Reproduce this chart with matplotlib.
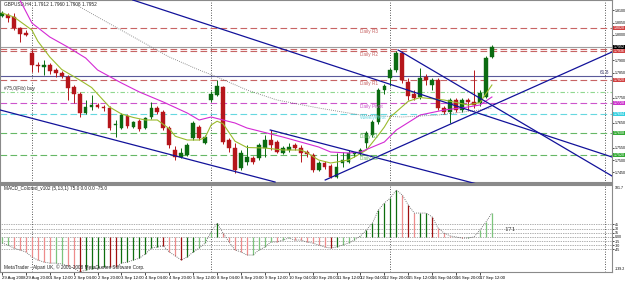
import numpy as np
import matplotlib.pyplot as plt
from matplotlib.transforms import blended_transform_factory

plt.rcParams['font.family'] = ['Liberation Sans', 'DejaVu Sans']

# GBPUSD H4, bars from 29 Aug 2008 04:00 to 17 Sep 2008 12:00
open_ = [1.8076, 1.8080, 1.8072, 1.8028, 1.8008, 1.7928, 1.7880, 1.7872, 1.7880, 1.7860,
         1.7848, 1.7832, 1.7792, 1.7764, 1.7688, 1.7712, 1.7720, 1.7712, 1.7708, 1.7640,
         1.7628, 1.7676, 1.7632, 1.7656, 1.7628, 1.7672, 1.7708, 1.7692, 1.7628, 1.7540,
         1.7512, 1.7520, 1.7588, 1.7632, 1.7568, 1.7740, 1.7760, 1.7792, 1.7580, 1.7548,
         1.7468, 1.7492, 1.7508, 1.7508, 1.7548, 1.7580, 1.7572, 1.7528, 1.7540, 1.7560,
         1.7548, 1.7532, 1.7520, 1.7460, 1.7488, 1.7476, 1.7432, 1.7488, 1.7492, 1.7524,
         1.7528, 1.7568, 1.7600, 1.7652, 1.7780, 1.7828, 1.7860, 1.7928, 1.7812, 1.7764,
         1.7752, 1.7832, 1.7800, 1.7820, 1.7708, 1.7692, 1.7740, 1.7700, 1.7740, 1.7732,
         1.7728, 1.7752, 1.7912]
high = [1.8096, 1.8088, 1.8088, 1.8032, 1.8020, 1.7940, 1.7892, 1.7900, 1.7888, 1.7868,
        1.7856, 1.7840, 1.7800, 1.7772, 1.7740, 1.7760, 1.7728, 1.7720, 1.7716, 1.7660,
        1.7688, 1.7684, 1.7656, 1.7664, 1.7672, 1.7732, 1.7716, 1.7700, 1.7636, 1.7556,
        1.7548, 1.7568, 1.7656, 1.7640, 1.7600, 1.7776, 1.7820, 1.7796, 1.7588, 1.7568,
        1.7540, 1.7560, 1.7516, 1.7568, 1.7600, 1.7620, 1.7580, 1.7556, 1.7568, 1.7568,
        1.7560, 1.7540, 1.7528, 1.7496, 1.7496, 1.7484, 1.7528, 1.7532, 1.7540, 1.7532,
        1.7548, 1.7616, 1.7660, 1.7788, 1.7804, 1.7868, 1.7936, 1.7936, 1.7828, 1.7780,
        1.7868, 1.7844, 1.7828, 1.7828, 1.7716, 1.7748, 1.7748, 1.7748, 1.7748, 1.7860,
        1.7780, 1.7916, 1.7960]
low = [1.8072, 1.8052, 1.8020, 1.7972, 1.7996, 1.7852, 1.7852, 1.7840, 1.7844, 1.7832,
       1.7828, 1.7740, 1.7728, 1.7672, 1.7684, 1.7700, 1.7708, 1.7696, 1.7620, 1.7592,
       1.7624, 1.7628, 1.7628, 1.7616, 1.7624, 1.7664, 1.7684, 1.7620, 1.7548, 1.7500,
       1.7508, 1.7516, 1.7580, 1.7580, 1.7564, 1.7732, 1.7756, 1.7564, 1.7532, 1.7448,
       1.7460, 1.7480, 1.7484, 1.7500, 1.7512, 1.7540, 1.7528, 1.7524, 1.7532, 1.7540,
       1.7492, 1.7512, 1.7452, 1.7456, 1.7464, 1.7428, 1.7428, 1.7472, 1.7488, 1.7512,
       1.7520, 1.7548, 1.7592, 1.7644, 1.7764, 1.7796, 1.7852, 1.7808, 1.7740, 1.7740,
       1.7744, 1.7800, 1.7780, 1.7700, 1.7684, 1.7648, 1.7692, 1.7692, 1.7700, 1.7708,
       1.7716, 1.7748, 1.7908]
close = [1.8088, 1.8068, 1.8028, 1.8004, 1.8000, 1.7880, 1.7876, 1.7880, 1.7856, 1.7848,
         1.7836, 1.7788, 1.7764, 1.7688, 1.7712, 1.7720, 1.7712, 1.7708, 1.7628, 1.7644,
         1.7680, 1.7636, 1.7652, 1.7624, 1.7668, 1.7708, 1.7692, 1.7628, 1.7560, 1.7512,
         1.7528, 1.7560, 1.7648, 1.7588, 1.7592, 1.7764, 1.7796, 1.7572, 1.7548, 1.7460,
         1.7528, 1.7512, 1.7492, 1.7560, 1.7580, 1.7560, 1.7532, 1.7548, 1.7552, 1.7548,
         1.7528, 1.7524, 1.7460, 1.7488, 1.7472, 1.7432, 1.7472, 1.7500, 1.7528, 1.7528,
         1.7540, 1.7608, 1.7652, 1.7780, 1.7796, 1.7860, 1.7928, 1.7820, 1.7756, 1.7748,
         1.7828, 1.7820, 1.7820, 1.7708, 1.7692, 1.7740, 1.7700, 1.7740, 1.7732, 1.7720,
         1.7768, 1.7908, 1.7952]

# moving averages (bar index, price)
ma_fast_bar = [0, 2, 5, 6, 8, 10, 13, 15, 17, 18, 20, 22, 24, 26, 28, 29, 31, 33, 34, 35,
               36, 37, 39, 41, 44, 47, 50, 51, 53, 55, 58, 59, 61, 63, 64, 65, 68, 70, 74,
               78, 80, 82]
ma_fast = [1.8088, 1.8072, 1.8020, 1.7975, 1.7912, 1.7862, 1.7820, 1.7790, 1.7738, 1.7712,
           1.7684, 1.7670, 1.7660, 1.7660, 1.7625, 1.7595, 1.7580, 1.7580, 1.7590, 1.7640,
           1.7655, 1.7645, 1.7575, 1.7550, 1.7548, 1.7540, 1.7540, 1.7530, 1.7500, 1.7488,
           1.7500, 1.7512, 1.7540, 1.7600, 1.7632, 1.7672, 1.7735, 1.7750, 1.7740, 1.7720,
           1.7730, 1.7800]
ma_mid_bar = [2, 3, 5, 8, 11, 14, 16, 20, 23, 27, 31, 33, 35, 39, 41, 47, 50, 53, 55, 58,
              60, 62, 64, 66, 70, 74, 78, 80, 82]
ma_mid = [1.8160, 1.8140, 1.8048, 1.7992, 1.7952, 1.7908, 1.7860, 1.7808, 1.7772, 1.7732,
          1.7688, 1.7660, 1.7672, 1.7648, 1.7628, 1.7592, 1.7572, 1.7552, 1.7532, 1.7528,
          1.7532, 1.7552, 1.7572, 1.7620, 1.7680, 1.7700, 1.7712, 1.7720, 1.7752]
ma_slow_bar = [11, 16, 22, 28, 33, 36, 41, 46, 53, 60, 67, 73, 80, 82]
ma_slow = [1.8140, 1.8072, 1.7992, 1.7912, 1.7860, 1.7832, 1.7780, 1.7740, 1.7708, 1.7680,
           1.7672, 1.7680, 1.7700, 1.7708]

# trend lines: (bar, price) -> (bar, price)
trend_lines = [((21.9, 1.8140), (102.1, 1.7512)),
               ((66.3, 1.7940), (102.1, 1.7436)),
               ((-0.3, 1.7700), (45.7, 1.7412)),
               ((44.9, 1.7620), (79.5, 1.7404)),
               ((54.1, 1.7420), (102.1, 1.7932))]

# pivot levels
level_names = ["Daily R3", "Daily R2", "Daily R1", "Daily Pivot", "WeeklyPivot", "Daily S1", "Daily S2"]
level_prices = [1.8028, 1.7936, 1.7820, 1.7728, 1.7684, 1.7608, 1.7520]
level_colors = ["#c86464", "#c86464", "#c86464", "#cc55cc", "#66d8e0", "#66b866", "#66b866"]
box_colors = ["#d04040", "#d04040", "#d04040", "#cc33cc", "#33d0e0", "#33aa33", "#33aa33"]
bid = 1.7952
fib_618 = 1.7836
fib_buy = 1.7772

# MACD histogram (one value per bar) and colour codes
macd = [-22, -29, -40, -47, -54, -72, -83, -90, -94, -94, -97, -104, -112, -126, -119, -115,
        -112, -108, -108, -108, -94, -90, -83, -76, -61, -40, -36, -32, -54, -68, -83, -72,
        -54, -40, -22, 18, 50, 14, -18, -47, -54, -65, -65, -47, -36, -18, -18, -11, -4, -11,
        -11, -18, -22, -29, -36, -40, -36, -29, -22, -11, 4, 25, 50, 97, 122, 140, 169, 151,
        115, 86, 86, 86, 72, 32, 14, 4, 0, -4, -4, 0, 25, 54, 86]
macd_col = "ggrrrrrrrggrrRGGGGRRGGGGGGGRrrRGGgggGrrrrrggggrggrrrrrrRGggggGGGGGGrRrGGRrrrrrgggggg"
macd_levels = [45, 30, 15, 0, -15, -30, -45]
macd_level_text = ["45", "30", "15", "0.00", "-15", "-30", "-45"]

time_labels = ["29 Aug 2008", "29 Aug 20:00", "1 Sep 12:00", "2 Sep 04:00", "2 Sep 20:00",
               "3 Sep 12:00", "4 Sep 04:00", "4 Sep 20:00", "5 Sep 12:00", "8 Sep 04:00",
               "8 Sep 20:00", "9 Sep 12:00", "10 Sep 04:00", "10 Sep 20:00", "11 Sep 12:00",
               "12 Sep 04:00", "12 Sep 20:00", "15 Sep 12:00", "16 Sep 04:00", "16 Sep 20:00",
               "17 Sep 12:00"]
separators = [5, 35, 65, 100.9]

W, H = 625, 283
fig = plt.figure(figsize=(W / 100, H / 100), dpi=100)
ax = fig.add_axes([0, 100 / H, 612 / W, 183 / H])
ax2 = fig.add_axes([0, 11 / H, 612 / W, 87 / H])

BULL = "#0b6b12"
BEAR = "#b5161b"
FS = 3.4
FR = 2.6  # right scale labels
NARROW = ['Liberation Sans Narrow', 'Liberation Sans', 'DejaVu Sans']

# ---- price pane
x = np.arange(len(close))
o = np.array(open_); c = np.array(close)
up = c >= o
cols = np.where(up, BULL, BEAR)
ax.vlines(x, low, high, colors=cols, lw=0.7, zorder=3)
body = np.maximum(np.abs(c - o), 0.00012)
ax.bar(x, body, bottom=np.minimum(o, c), width=0.62, color=cols, edgecolor=cols, lw=0.3, zorder=3)

ax.plot(ma_fast_bar, ma_fast, color="#9bbb2c", lw=0.8, zorder=4)
ax.plot(ma_mid_bar, ma_mid, color="#d42ad4", lw=0.8, zorder=4)
ax.plot(ma_slow_bar, ma_slow, color="#707070", lw=0.6, ls=(0, (1, 1.5)), zorder=4)

for (x0, y0), (x1, y1) in trend_lines:
    ax.plot([x0, x1], [y0, y1], color="#12129a", lw=0.9, zorder=5)

for name, p, col in zip(level_names, level_prices, level_colors):
    ax.axhline(p, color=col, lw=0.8, ls=(0, (6, 3)), zorder=2)
    ax.text(60, p - 0.0004, name, color=col, fontsize=FS, va="top", ha="left", zorder=6)
ax.axhline(level_prices[1] + 0.0008, color="#c86464", lw=0.8, ls=(0, (6, 3)), zorder=2)
ax.axhline(bid, color="#a0a0a0", lw=0.8, zorder=2)
ax.axhline(fib_618, color="#5a5a9a", lw=0.8, zorder=2)
ax.text(101.6, fib_618 + 0.0003, "61.8", fontsize=FS, ha="right", va="bottom", color="#333366")
ax.axhline(fib_buy, color="#90d890", lw=0.8, ls=(0, (4, 2, 1, 2)), zorder=2)
ax.text(0.3, fib_buy + 0.0003, "#75,0(Fib) buy", fontsize=FS, va="bottom", color="#333333")

ax.text(0.3, 1.8135, "GBPUSD,H4  1.7912 1.7960 1.7908 1.7952", fontsize=FS, va="top", color="#222222")

ax.set_xlim(-0.335, 102.1)
ax.set_ylim(1.7408, 1.8140)
ax.yaxis.tick_right()
ticks = [1.8100, 1.8050, 1.8000, 1.7900, 1.7850, 1.7750, 1.7650, 1.7550, 1.7500, 1.7450]
ax.set_yticks(ticks)
ax.set_yticklabels([f"{t:.4f}" for t in ticks])
ax.tick_params(axis="y", labelsize=FR, length=1.5, width=0.5, pad=0.8)
ax.set_xticks([])

tr = blended_transform_factory(ax.transAxes, ax.transData)
for p, col in zip(level_prices + [bid], box_colors + ["black"]):
    ax.text(1.003, p, f"{p:.4f}", transform=tr, fontsize=FR, color="white", va="center", ha="left",
            bbox=dict(boxstyle="square,pad=0.12", fc=col, ec="none"), clip_on=False, zorder=7)

# ---- MACD pane
mc = {"g": "#7cc47c", "G": "#0e6e0e", "r": "#ee8c8c", "R": "#a01010"}
ax2.vlines(x, 0, macd, colors=[mc[k] for k in macd_col], lw=0.9, zorder=3)
ax2.plot(x, macd, color="#505050", lw=0.6, ls=(0, (1, 1.5)), zorder=4)
for lv in macd_levels:
    ax2.axhline(lv, color="#606060", lw=0.5, ls=(0, (1, 1.5)), zorder=2)
ax2.set_xlim(-0.335, 102.1)
ax2.set_ylim(-126, 187)
ax2.yaxis.tick_right()
ax2.set_yticks(macd_levels)
ax2.set_yticklabels(macd_level_text)
ax2.tick_params(axis="y", labelsize=FR, length=1.5, width=0.5, pad=0.8)
ax2.set_xticks(np.arange(0, 81, 4))
ax2.set_xticklabels(time_labels, ha="left", family=NARROW)
ax2.tick_params(axis="x", labelsize=3.1, length=2, width=0.5, pad=0.8)
ax2.text(1.004, 0.99, "181.7", transform=ax2.transAxes, fontsize=FR, va="top")
ax2.text(1.004, 0.01, "-139.2", transform=ax2.transAxes, fontsize=FR, va="bottom")
ax2.text(0.3, 182, "MACD_Colored_v102 (5,13,1) 75.0 0.0 0.0 -75.0", fontsize=FS, va="top", color="#222222")
ax2.text(0.3, -118, "MetaTrader - Alpari UK, \u00a9 2001-2008 MetaQuotes Software Corp.", fontsize=FS,
         va="bottom", color="#222222")
ax2.text(84, 28, "171", fontsize=FS + 0.8, family="DejaVu Serif", va="center", color="#333333")

for a in (ax, ax2):
    for s in a.spines.values():
        s.set_color("#8a8a8a")
        s.set_linewidth(0.8)
    for sx in separators:
        a.axvline(sx, color="#222222", lw=0.6, ls=(0, (1, 2)), zorder=1)
ax.spines["bottom"].set_linewidth(1.5)
ax2.spines["top"].set_linewidth(1.5)

fig.savefig("out.png", dpi=100)
